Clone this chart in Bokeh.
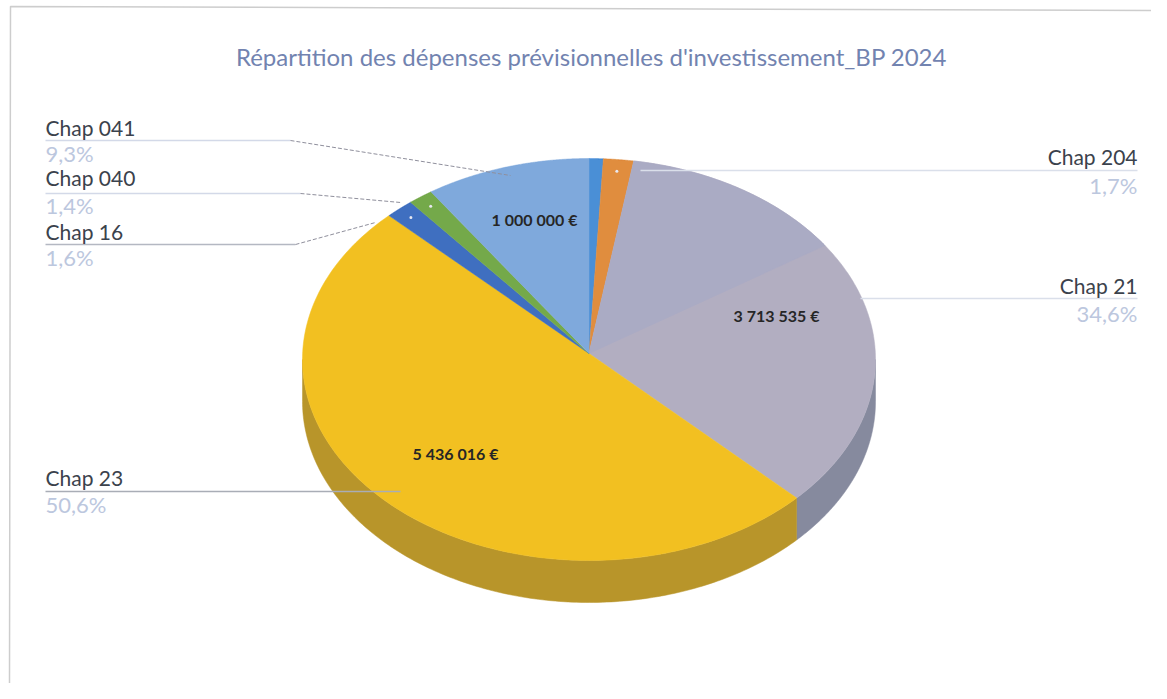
import numpy as np
from bokeh.plotting import figure
from bokeh.models import Range1d
from bokeh.core.properties import value
from bokeh.embed import file_html
from bokeh.resources import INLINE

# ---- data -------------------------------------------------------------
title_text = "Répartition des dépenses prévisionnelles d'investissement_BP 2024"
categories = ["Chap 20", "Chap 204", "Chap 21", "Chap 23", "Chap 16", "Chap 040", "Chap 041"]
shares = [0.8, 1.7, 34.6, 50.6, 1.6, 1.4, 9.3]
share_labels = ["", "1,7%", "34,6%", "50,6%", "1,6%", "1,4%", "9,3%"]
amount_labels = ["", "", "3 713 535 €", "5 436 016 €", "", "", "1 000 000 €"]
top_colors = ["#4a8fd6", "#e08d3e", "#b2aec1", "#f2c021", "#3f6fc0", "#74a94a", "#7fa9dc"]
side_colors = ["#35679a", "#a0652c", "#868a9e", "#b8952a", "#2d5089", "#537a35", "#5b7aa0"]
chap21_upper_share = 12.9
chap21_upper_color = "#aaabc4"
marked = ["Chap 204", "Chap 16", "Chap 040"]

# ---- layout -----------------------------------------------------------
CX, CY, RX, RY, DEPTH = 588.5, 359.0, 286.5, 201.0, 42.0
APEX = (588.5, 353.0)
FONT = "Lato"
W, H = 1151, 683


def rim(start_pct, end_pct, dy=0.0, n=160):
    a = np.radians(np.linspace(start_pct, end_pct, n) * 3.6)
    return CX + RX * np.sin(a), CY - RY * np.cos(a) + dy


p = figure(width=W, height=H, output_backend="svg", toolbar_location=None,
           x_range=Range1d(0, W), y_range=Range1d(H, 0),
           min_border=0, outline_line_color=None, background_fill_color="white")
p.axis.visible = False
p.grid.visible = False

# frame
p.line([9, 10, W], [H, 6, 10], line_color="#cdcdcd", line_width=1.5)

# walls
edges = np.concatenate([[0], np.cumsum(shares)])
for i, c in enumerate(categories):
    lo, hi = max(edges[i], 25.0), min(edges[i + 1], 75.0)
    if hi > lo:
        x1, y1 = rim(lo, hi)
        x2, y2 = rim(lo, hi, DEPTH)
        p.patch(np.r_[x1, x2[::-1]], np.r_[y1, y2[::-1]], fill_color=side_colors[i],
                line_color=side_colors[i], line_width=0.5)

# top faces
for i, c in enumerate(categories):
    x, y = rim(edges[i], edges[i + 1])
    p.patch(np.r_[APEX[0], x], np.r_[APEX[1], y], fill_color=top_colors[i],
            line_color=top_colors[i], line_width=0.5)
    if c == "Chap 21":
        x, y = rim(edges[i], edges[i] + chap21_upper_share)
        p.patch(np.r_[APEX[0], x], np.r_[APEX[1], y], fill_color=chap21_upper_color,
                line_color=chap21_upper_color, line_width=0.5)

# small marks on thin slices
for i, c in enumerate(categories):
    if c in marked:
        m = (edges[i] + edges[i + 1]) / 2
        x, y = rim(m, m, n=1)
        p.scatter(APEX[0] + (x - APEX[0]) * 0.94, APEX[1] + (y - APEX[1]) * 0.94,
                  size=3, fill_color="#e8e8f0", line_color=None)

# leader lines: (x extent, y extent, elbow end, horizontal colour)
leaders = {
    "Chap 041": ([45, 290], [140, 140], [510, 175], "#d3d9e8"),
    "Chap 040": ([45, 300], [193, 193], [400, 202], "#d3d9e8"),
    "Chap 16": ([45, 295], [244, 244], [375, 222], "#b4b8c2"),
    "Chap 204": ([640, 1137], [170, 170], None, "#dadfea"),
    "Chap 21": ([860, 1137], [298, 298], None, "#dadfea"),
    "Chap 23": ([45, 400], [491, 491], None, "#a9adb6"),
}
for c, (xs, ys, end, col) in leaders.items():
    p.line(xs, ys, line_color=col, line_width=1.3)
    if end:
        p.line([xs[1], end[0]], [ys[1], end[1]], line_color="#8f8f9c", line_width=1, line_dash="4 2")

# texts
name_pos = {"Chap 041": (45, 127), "Chap 040": (45, 177), "Chap 16": (45, 231),
            "Chap 204": (1137, 156), "Chap 21": (1137, 285), "Chap 23": (45, 477)}
pct_pos = {"Chap 041": 153, "Chap 040": 205, "Chap 16": 257,
           "Chap 204": 185, "Chap 21": 313, "Chap 23": 504}
for c, (x, y) in name_pos.items():
    align = "left" if x < 500 else "right"
    p.text([x], [y], text=[c], text_font=value(FONT), text_font_size="21px",
           text_color="#3b424c", text_align=align, text_baseline="middle")
    p.text([x], [pct_pos[c]], text=[share_labels[categories.index(c)]], text_font=value(FONT),
           text_font_size="22px", text_color="#bcc7de", text_align=align, text_baseline="middle")

amount_pos = {"Chap 041": (534, 219), "Chap 21": (776, 315), "Chap 23": (455, 453)}
for c, (x, y) in amount_pos.items():
    p.text([x], [y], text=[amount_labels[categories.index(c)]], text_font=value(FONT),
           text_font_size="16px", text_font_style="bold", text_color="#262626",
           text_align="center", text_baseline="middle")

p.text([591], [56], text=[title_text], text_font=value(FONT), text_font_size="24px",
       text_color="#7283b0", text_align="center", text_baseline="middle")

open("out.html", "w").write(file_html(p, INLINE))
